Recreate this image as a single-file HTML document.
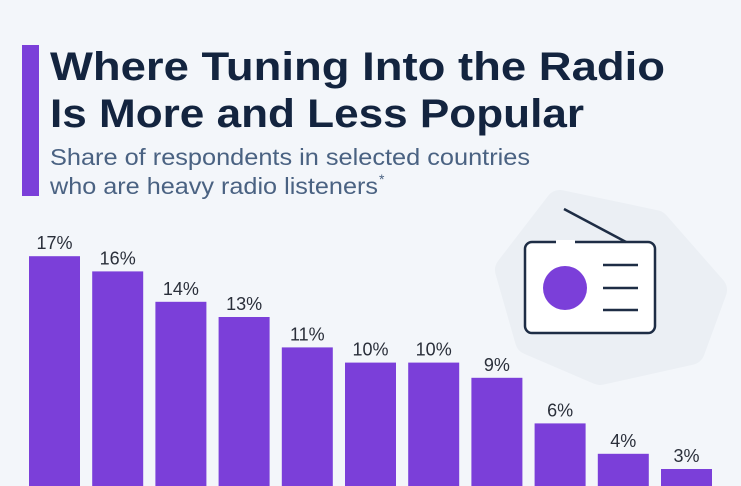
<!DOCTYPE html>
<html><head><meta charset="utf-8"><style>
html,body{margin:0;padding:0;background:#f3f6fa;width:741px;height:486px;overflow:hidden}
svg{display:block;font-family:"Liberation Sans",sans-serif;overflow:hidden}
</style></head><body>
<svg width="741" height="486" viewBox="0 0 741 486">
<rect width="741" height="486" fill="#f3f6fa"/>
<rect x="22" y="45" width="17" height="151" fill="#7b3fd9"/>
<text x="50" y="80" font-size="40" font-weight="bold" fill="#13243f" textLength="615" lengthAdjust="spacingAndGlyphs">Where Tuning Into the Radio</text>
<text x="50" y="127" font-size="40" font-weight="bold" fill="#13243f" textLength="534" lengthAdjust="spacingAndGlyphs">Is More and Less Popular</text>
<text x="50" y="165" font-size="23" fill="#4a6282" textLength="480" lengthAdjust="spacingAndGlyphs">Share of respondents in selected countries</text>
<text x="50" y="194" font-size="23" fill="#4a6282" textLength="328" lengthAdjust="spacingAndGlyphs">who are heavy radio listeners</text>
<text x="379" y="184" font-size="14" fill="#4a6282">*</text>
<g>
<path d="M560 205 L655 225 L712 290 L690 350 L600 370 L530 340 L510 270 Z" fill="#ebeff4" stroke="#ebeff4" stroke-width="30" stroke-linejoin="round"/>
<rect x="525" y="242" width="130" height="91" rx="7" fill="#fff" stroke="#1e2d45" stroke-width="2.5"/>
<line x1="556" y1="242" x2="575" y2="242" stroke="#fff" stroke-width="4"/>
<line x1="564" y1="209" x2="626" y2="242" stroke="#1e2d45" stroke-width="2.5"/>
<circle cx="565" cy="288" r="22" fill="#7b3fd9"/>
<g stroke="#1e2d45" stroke-width="2.5"><line x1="603" y1="265" x2="638" y2="265"/><line x1="603" y1="288" x2="638" y2="288"/><line x1="603" y1="310" x2="638" y2="310"/></g>
</g>
<g id="bars"></g>
</svg>
<script>
const categories=["c1","c2","c3","c4","c5","c6","c7","c8","c9","c10","c11"];
const values=[17,16,14,13,11,10,10,9,6,4,3];
const labels=["17%","16%","14%","13%","11%","10%","10%","9%","6%","4%","3%"];
const NS="http://www.w3.org/2000/svg";
const g=document.getElementById("bars");
const x0=29,step=63.2,bw=51,base=514.6,ppu=15.2,bottom=486;
function xs(i){return x0+i*step;}
function ys(v){return base-v*ppu;}
values.forEach((v,i)=>{
 const r=document.createElementNS(NS,"rect");
 const y=ys(v);
 r.setAttribute("x",xs(i));r.setAttribute("y",y);r.setAttribute("width",bw);r.setAttribute("height",Math.max(0,bottom-y));r.setAttribute("fill","#7b3fd9");
 
 
 g.appendChild(r);
 const t=document.createElementNS(NS,"text");
 t.setAttribute("x",xs(i)+bw/2);t.setAttribute("y",y-7);t.setAttribute("text-anchor","middle");t.setAttribute("font-size","18");t.setAttribute("fill","#2a2f3a");
 t.textContent=labels[i];
 
 
 g.appendChild(t);
});
</script>
</body></html>
